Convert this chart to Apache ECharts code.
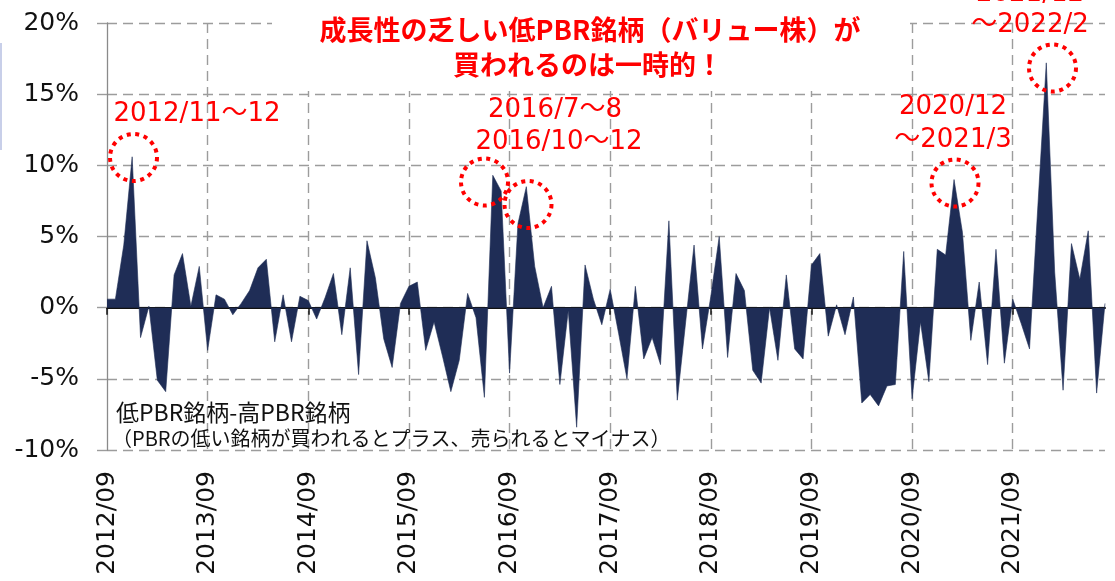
<!DOCTYPE html>
<html><head><meta charset="utf-8">
<script src="https://cdn.jsdelivr.net/npm/echarts@6/dist/echarts.min.js"></script>
<style>html,body{margin:0;padding:0;background:#fff}#c{width:1115px;height:581px}</style>
</head><body><div id="c"></div>
<script>
// Monthly categories 2012/09 - 2022/08
const months = [
  '2012/09','2012/10','2012/11','2012/12',
  '2013/01','2013/02','2013/03','2013/04','2013/05','2013/06','2013/07','2013/08','2013/09','2013/10','2013/11','2013/12',
  '2014/01','2014/02','2014/03','2014/04','2014/05','2014/06','2014/07','2014/08','2014/09','2014/10','2014/11','2014/12',
  '2015/01','2015/02','2015/03','2015/04','2015/05','2015/06','2015/07','2015/08','2015/09','2015/10','2015/11','2015/12',
  '2016/01','2016/02','2016/03','2016/04','2016/05','2016/06','2016/07','2016/08','2016/09','2016/10','2016/11','2016/12',
  '2017/01','2017/02','2017/03','2017/04','2017/05','2017/06','2017/07','2017/08','2017/09','2017/10','2017/11','2017/12',
  '2018/01','2018/02','2018/03','2018/04','2018/05','2018/06','2018/07','2018/08','2018/09','2018/10','2018/11','2018/12',
  '2019/01','2019/02','2019/03','2019/04','2019/05','2019/06','2019/07','2019/08','2019/09','2019/10','2019/11','2019/12',
  '2020/01','2020/02','2020/03','2020/04','2020/05','2020/06','2020/07','2020/08','2020/09','2020/10','2020/11','2020/12',
  '2021/01','2021/02','2021/03','2021/04','2021/05','2021/06','2021/07','2021/08','2021/09','2021/10','2021/11','2021/12',
  '2022/01','2022/02','2022/03','2022/04','2022/05','2022/06','2022/07','2022/08'
];
// 低PBR銘柄 - 高PBR銘柄 (%)
const spread = [
  0.6, 0.6, 4.4, 10.6,
  -2.1, 0.1, -5.1, -5.9, 2.3, 3.8, 0.1, 2.9, -3.0, 0.9, 0.6, -0.5,
  0.3, 1.2, 2.8, 3.4, -2.4, 0.9, -2.4, 0.8, 0.5, -0.8, 0.7, 2.4,
  -1.9, 2.8, -4.7, 4.7, 2.1, -2.2, -4.2, 0.3, 1.5, 1.8, -3.0, -1.0,
  -3.4, -5.9, -3.7, 1.0, -0.7, -6.3, 9.3, 8.2, -4.6, 5.9, 8.5, 2.9,
  0.0, 1.5, -5.4, -0.2, -8.4, 3.0, 0.6, -1.2, 1.3, -1.8, -5.0, 1.5,
  -3.6, -2.1, -4.0, 6.1, -6.5, -1.0, 4.4, -2.9, 0.8, 5.0, -3.5, 2.4,
  1.2, -4.4, -5.3, 0.0, -3.7, 2.3, -2.9, -3.6, 3.0, 3.8, -2.0, 0.2,
  -1.9, 0.75, -6.7, -6.1, -6.9, -5.5, -5.4, 3.95, -6.4, -1.0, -5.2, 4.1,
  3.7, 9.0, 5.3, -2.3, 1.8, -4.0, 4.1, -3.9, 0.6, -1.1, -2.9, 7.2,
  17.2, 2.5, -5.8, 4.5, 2.0, 5.4, -6.0, 0.3
];
const tickLabels = ['2012/09','2013/09','2014/09','2015/09','2016/09','2017/09','2018/09','2019/09','2020/09','2021/09'];
const yMin = -10, yMax = 20, yStep = 5;
const titleLines = ['成長性の乏しい低PBR銘柄（バリュー株）が', '買われるのは一時的！'];
const noteLines = ['低PBR銘柄-高PBR銘柄', '（PBRの低い銘柄が買われるとプラス、売られるとマイナス）'];
const callouts = [
  ['2012/11～12'],
  ['2016/7～8', '2016/10～12'],
  ['2020/12', '～2021/3'],
  ['2021/12', '～2022/2']
];

const isYear = (i) => tickLabels.indexOf(months[i]) >= 0;
const RED = '#ff0000';
const GRID = '#9c9c9c';
const NUMFONT = '"DejaVu Sans", "Noto Sans CJK JP"';
const CALLFONT = '26px ' + NUMFONT;

const chart = echarts.init(document.getElementById('c'), null, {renderer: 'canvas'});

function dotted(cx, cy) {
  return {type: 'circle', z: 120, shape: {cx: cx, cy: cy, r: 23.5},
    style: {fill: 'none', stroke: RED, lineWidth: 4, lineDash: [4, 4.6]}};
}
function txt(t, x, y, font, fill, align) {
  return {type: 'text', z: 130, style: {text: t, x: x, y: y, font: font, fill: fill,
    textAlign: align || 'center', textVerticalAlign: 'middle'}};
}

chart.setOption({
  animation: false,
  backgroundColor: '#fff',
  grid: {left: 107, right: 10, top: 23, bottom: 131, containLabel: false},
  xAxis: [{
    type: 'category', data: months, boundaryGap: false, position: 'bottom',
    axisLine: {show: true, onZero: true, lineStyle: {color: '#111', width: 2}},
    axisTick: {show: true, interval: (i) => isYear(i), length: 7, lineStyle: {color: '#111', width: 1.5}},
    axisLabel: {show: false},
    splitLine: {show: true, interval: (i) => isYear(i) && i > 0, lineStyle: {color: GRID, width: 1.4, type: [10, 6]}}
  }, {
    type: 'category', data: months, boundaryGap: false, position: 'bottom',
    axisLine: {show: false, onZero: false},
    axisTick: {show: false},
    splitLine: {show: false},
    axisLabel: {show: true, interval: (i) => isYear(i), rotate: 90, margin: 21,
      fontSize: 25, fontFamily: NUMFONT, color: '#111'}
  }],
  yAxis: {
    type: 'value', min: yMin, max: yMax, interval: yStep,
    axisLine: {show: true, lineStyle: {color: '#8a8a8a', width: 1.3}},
    axisTick: {show: true, length: 10, lineStyle: {color: GRID, width: 1.4}},
    axisLabel: {formatter: '{value}%', fontSize: 25, fontFamily: NUMFONT, color: '#111', margin: 28},
    splitLine: {show: true, lineStyle: {color: GRID, width: 1.4, type: [10, 6]}}
  },
  series: [{
    type: 'line', xAxisIndex: 0, yAxisIndex: 0, data: spread,
    symbol: 'none', smooth: false,
    lineStyle: {width: 0.6, color: '#1f2d56'},
    areaStyle: {color: '#1f2d56', opacity: 1, origin: 0},
    z: 2
  }],
  graphic: [
    {type: 'rect', z: 100, shape: {x: 0, y: 43, width: 2, height: 107}, style: {fill: '#c8cfe9'}},
    {type: 'rect', z: 100, shape: {x: 272, y: 0, width: 638, height: 91}, style: {fill: '#fff'}},
    txt(titleLines[0], 590, 30, 'bold 27px "Noto Sans CJK JP"', RED),
    txt(titleLines[1], 588, 65, 'bold 27px "Noto Sans CJK JP"', RED),
    txt(callouts[0][0], 197, 114, CALLFONT, RED),
    txt(callouts[1][0], 555, 110, CALLFONT, RED),
    txt(callouts[1][1], 559, 142, CALLFONT, RED),
    txt(callouts[2][0], 953, 107, CALLFONT, RED),
    txt(callouts[2][1], 953, 140, CALLFONT, RED),
    txt(callouts[3][0], 1030, -6, CALLFONT, RED),
    txt(callouts[3][1], 1030, 25, CALLFONT, RED),
    dotted(133.5, 157.5),
    dotted(484.5, 182),
    dotted(528, 204.5),
    dotted(955, 183),
    dotted(1052.5, 68),
    txt(noteLines[0], 116, 412, '23px "Noto Sans CJK JP"', '#111', 'left'),
    txt(noteLines[1], 112, 438, '20px "Noto Sans CJK JP"', '#111', 'left')
  ]
});
</script>
</body></html>
